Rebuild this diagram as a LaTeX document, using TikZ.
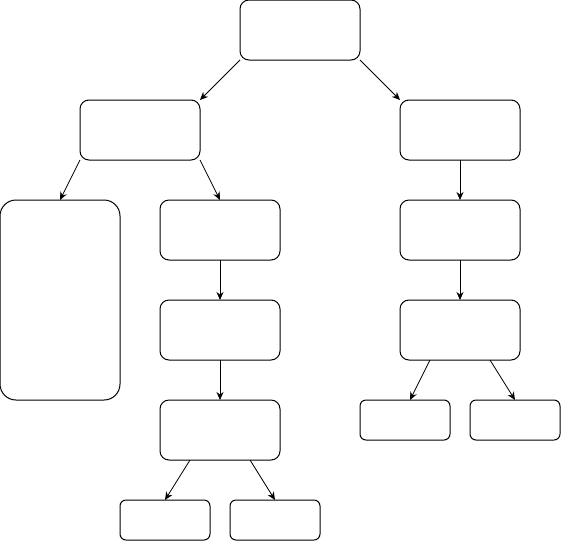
\documentclass[tikz,border=0pt]{standalone}
\usepackage{amssymb}
\usepackage{amsmath}
\usetikzlibrary{arrows.meta}

\begin{document}
\begin{tikzpicture}[x=1pt,y=-1pt,
    box/.style={draw, line width=1pt, rounded corners=9pt, inner sep=0pt, outer sep=0pt,
      minimum width=120pt, minimum height=60pt},
    smallbox/.style={box, rounded corners=6pt, minimum width=90pt, minimum height=40pt},
    tallbox/.style={box, rounded corners=16pt, minimum width=120pt, minimum height=200pt},
    arr/.style={-{Stealth[length=8pt,width=7pt]}, line width=0.8pt}]
      \useasboundingbox (0,0) rectangle (561,541);
      %(1) root
      \node[box] (root) at (300,30) {};
      %(2) second level
      \node[box] (left) at (140,130) {};
      \node[box] (right) at (460,130) {};
      %(3) left branch
      \node[tallbox] (tall) at (60,300) {};
      \node[box] (mid1) at (220,230) {};
      \node[box] (mid2) at (220,330) {};
      \node[box] (mid3) at (220,430) {};
      \node[smallbox] (midA) at (165,520) {};
      \node[smallbox] (midB) at (275,520) {};
      %(4) right branch
      \node[box] (right1) at (460,230) {};
      \node[box] (right2) at (460,330) {};
      \node[smallbox] (rightA) at (405,420) {};
      \node[smallbox] (rightB) at (515,420) {};
      %(5) arrows
      \draw[arr] (root.south west) -- (left.north east);
      \draw[arr] (root.south east) -- (right.north west);
      \draw[arr] (left.south west) -- (tall.north);
      \draw[arr] (left.south east) -- (mid1.north);
      \draw[arr] (mid1) -- (mid2);
      \draw[arr] (mid2) -- (mid3);
      \draw[arr] ([xshift=-30pt]mid3.south) -- (midA.north);
      \draw[arr] ([xshift=30pt]mid3.south) -- (midB.north);
      \draw[arr] (right) -- (right1);
      \draw[arr] (right1) -- (right2);
      \draw[arr] ([xshift=-30pt]right2.south) -- ([xshift=5pt]rightA.north);
      \draw[arr] ([xshift=30pt]right2.south) -- (rightB.north);
    \end{tikzpicture}
\end{document}
